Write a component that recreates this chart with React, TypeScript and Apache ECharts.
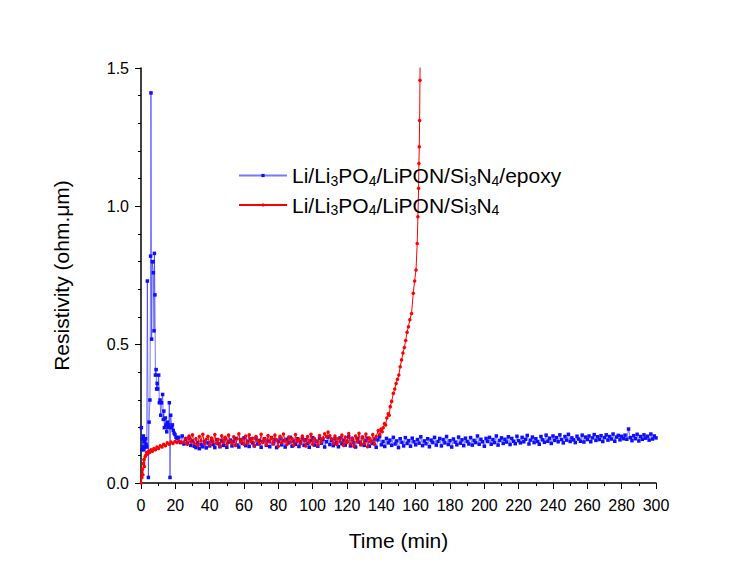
import React, { useEffect, useRef } from "react";
import * as echarts from "echarts";

const FONT = "'Liberation Sans', Arial, Helvetica, sans-serif";

const seriesNames = ["Li/Li3PO4/LiPON/Si3N4/epoxy", "Li/Li3PO4/LiPON/Si3N4"];
const xTickLabels = [0, 20, 40, 60, 80, 100, 120, 140, 160, 180, 200, 220, 240, 260, 280, 300];
const yTickLabels = [0, 0.5, 1.0, 1.5];

// Blue series (with epoxy): initial spike region, [time, resistivity]
const blueEarly: [number, number][] = [
  [0.2, 0.2], [0.5, 0.12], [0.8, 0.16], [1.1, 0.13], [1.4, 0.17], [1.7, 0.12], [2.0, 0.15],
  [2.3, 0.13], [2.7, 0.16], [3.0, 0.14], [3.3, 0.13], [3.7, 0.73], [4.3, 0.02], [4.7, 0.22],
  [5.2, 0.3], [5.6, 0.82], [5.8, 1.41], [6.2, 0.52], [6.6, 0.8], [7.0, 0.8], [7.2, 0.76],
  [7.6, 0.55], [7.8, 0.83], [8.1, 0.68], [8.4, 0.39], [8.8, 0.41], [9.1, 0.34], [9.4, 0.36],
  [9.7, 0.34], [10.3, 0.39], [10.7, 0.29], [11.1, 0.3], [11.5, 0.245], [12.0, 0.29],
  [12.6, 0.32], [13.0, 0.23], [13.3, 0.26], [13.6, 0.2], [14.2, 0.235], [14.6, 0.21],
  [15.0, 0.185], [15.4, 0.22], [15.8, 0.2], [16.2, 0.21], [16.5, 0.29], [16.9, 0.02],
  [17.3, 0.245], [17.9, 0.2], [18.3, 0.21], [18.8, 0.19], [19.3, 0.18], [19.8, 0.175],
  [20.4, 0.165], [21.0, 0.16],
];
// Blue series: flat part, sampled every 1 min from 22 min to 300 min
const blueFlatStart = 22;
const blueFlatStep = 1;
const blueFlat = [
  0.165, 0.146, 0.17, 0.141, 0.158, 0.144, 0.163, 0.136, 0.152, 0.133,
  0.128, 0.147, 0.124, 0.139, 0.131, 0.15, 0.127, 0.145, 0.134, 0.152,
  0.139, 0.128, 0.157, 0.142, 0.131, 0.153, 0.136, 0.16, 0.129, 0.148,
  0.155, 0.134, 0.15, 0.161, 0.137, 0.13, 0.157, 0.143, 0.163, 0.135,
  0.151, 0.132, 0.159, 0.145, 0.134, 0.162, 0.141, 0.154, 0.129, 0.149,
  0.16, 0.136, 0.152, 0.131, 0.164, 0.142, 0.156, 0.128, 0.15, 0.161,
  0.138, 0.154, 0.13, 0.158, 0.145, 0.165, 0.133, 0.152, 0.14, 0.16,
  0.132, 0.149, 0.162, 0.136, 0.156, 0.143, 0.129, 0.153, 0.164, 0.137,
  0.151, 0.133, 0.161, 0.144, 0.157, 0.13, 0.149, 0.166, 0.139, 0.154,
  0.135, 0.16, 0.147, 0.131, 0.163, 0.142, 0.155, 0.137, 0.151, 0.167,
  0.134, 0.158, 0.145, 0.13, 0.161, 0.148, 0.139, 0.165, 0.136, 0.153,
  0.162, 0.133, 0.151, 0.143, 0.159, 0.129, 0.156, 0.168, 0.138, 0.15,
  0.132, 0.161, 0.145, 0.155, 0.136, 0.165, 0.141, 0.152, 0.128, 0.16,
  0.147, 0.134, 0.164, 0.143, 0.153, 0.133, 0.162, 0.149, 0.138, 0.157,
  0.144, 0.167, 0.135, 0.152, 0.142, 0.16, 0.131, 0.155, 0.146, 0.165,
  0.137, 0.15, 0.161, 0.134, 0.157, 0.145, 0.168, 0.139, 0.153, 0.13,
  0.159, 0.148, 0.138, 0.166, 0.144, 0.156, 0.135, 0.162, 0.15, 0.141,
  0.164, 0.137, 0.154, 0.146, 0.17, 0.14, 0.158, 0.149, 0.133, 0.161,
  0.15, 0.165, 0.14, 0.157, 0.146, 0.17, 0.137, 0.154, 0.163, 0.143,
  0.158, 0.148, 0.167, 0.139, 0.161, 0.151, 0.142, 0.169, 0.153, 0.145,
  0.165, 0.149, 0.158, 0.172, 0.141, 0.155, 0.166, 0.146, 0.16, 0.15,
  0.14, 0.168, 0.156, 0.147, 0.173, 0.151, 0.162, 0.143, 0.17, 0.154,
  0.164, 0.149, 0.174, 0.157, 0.145, 0.168, 0.155, 0.176, 0.15, 0.163,
  0.156, 0.146, 0.169, 0.159, 0.151, 0.173, 0.148, 0.166, 0.157, 0.17,
  0.149, 0.163, 0.175, 0.154, 0.167, 0.157, 0.171, 0.15, 0.164, 0.174,
  0.155, 0.168, 0.159, 0.177, 0.151, 0.166, 0.172, 0.156, 0.169, 0.16,
  0.173, 0.158, 0.195, 0.164, 0.153, 0.171, 0.16, 0.176, 0.152, 0.168,
  0.158, 0.174, 0.162, 0.169, 0.155, 0.177, 0.159, 0.17, 0.163,
];

// Red series (without epoxy): initial rise
const redEarly: [number, number][] = [
  [0.2, 0.0], [0.5, 0.02], [0.8, 0.05], [1.1, 0.03], [1.4, 0.07], [1.7, 0.085], [2.0, 0.06],
  [2.4, 0.095], [2.8, 0.1], [3.3, 0.11], [3.8, 0.105], [4.4, 0.115], [5.0, 0.11], [5.8, 0.12],
  [6.6, 0.115], [7.5, 0.125], [8.4, 0.12], [9.3, 0.13], [10.2, 0.125], [11.2, 0.135],
  [12.2, 0.13], [13.2, 0.14], [14.2, 0.135], [15.3, 0.145], [16.4, 0.14], [17.5, 0.148],
  [18.6, 0.143], [19.8, 0.15], [21.0, 0.146], [22.2, 0.152], [23.5, 0.148],
];
// Red series: plateau, sampled every 1 min from 25 min to 137 min
const redFlatStart = 25;
const redFlatStep = 1;
const redFlat = [
  0.147, 0.162, 0.14, 0.17, 0.15, 0.174, 0.143, 0.16, 0.136, 0.168,
  0.152, 0.176, 0.141, 0.158, 0.169, 0.137, 0.163, 0.149, 0.175, 0.144,
  0.157, 0.134, 0.171, 0.146, 0.165, 0.139, 0.173, 0.151, 0.142, 0.167,
  0.136, 0.16, 0.178, 0.148, 0.158, 0.14, 0.17, 0.145, 0.174, 0.15,
  0.162, 0.135, 0.168, 0.153, 0.141, 0.176, 0.147, 0.161, 0.138, 0.172,
  0.149, 0.164, 0.142, 0.173, 0.156, 0.133, 0.169, 0.146, 0.177, 0.152,
  0.139, 0.166, 0.148, 0.161, 0.136, 0.175, 0.15, 0.159, 0.142, 0.17,
  0.155, 0.134, 0.168, 0.147, 0.176, 0.14, 0.161, 0.152, 0.137, 0.172,
  0.148, 0.163, 0.178, 0.167, 0.184, 0.171, 0.16, 0.144, 0.17, 0.139,
  0.161, 0.15, 0.173, 0.136, 0.166, 0.146, 0.179, 0.141, 0.163, 0.133,
  0.17, 0.15, 0.18, 0.138, 0.166, 0.144, 0.177, 0.131, 0.163, 0.148,
  0.175, 0.14, 0.168,
];
// Red series: breakdown rise
const redRise: [number, number][] = [
  [138.2, 0.19], [139.0, 0.175], [139.8, 0.195], [140.5, 0.185], [141.1, 0.2], [141.8, 0.215],
  [142.5, 0.21], [143.2, 0.235], [144.0, 0.25], [144.6, 0.245], [145.2, 0.276], [146.0, 0.295],
  [147.0, 0.324], [147.8, 0.34], [148.6, 0.36], [149.4, 0.375], [150.2, 0.39], [151.0, 0.42],
  [151.8, 0.445], [152.6, 0.47], [153.4, 0.49], [154.2, 0.515], [155.0, 0.545], [155.8, 0.565],
  [156.6, 0.59], [157.6, 0.613], [158.6, 0.686], [159.4, 0.73], [160.2, 0.77], [160.9, 0.866],
  [161.3, 0.962], [161.7, 1.065], [161.9, 1.155], [162.1, 1.215], [162.3, 1.31], [162.5, 1.456],
  [162.7, 1.6],
];

function richName(name: string): string {
  const parts = name.split(/(\d)/).filter((p) => p.length > 0);
  return parts.map((p) => (/^\d$/.test(p) ? `{s|${p}}` : `{n|${p}}`)).join("");
}

export default function App() {
  const ref = useRef<HTMLDivElement>(null);
  useEffect(() => {
    document.body.style.margin = "0";
    if (!ref.current) return;
    const chart = echarts.init(ref.current, undefined, { renderer: "svg" });

    const blueData: [number, number][] = [
      ...blueEarly,
      ...blueFlat.map((v, i) => [blueFlatStart + i * blueFlatStep, v] as [number, number]),
    ];
    const redData: [number, number][] = [
      ...redEarly,
      ...redFlat.map((v, i) => [redFlatStart + i * redFlatStep, v] as [number, number]),
      ...redRise,
    ];

    const axisCommon = {
      axisLine: { show: true, lineStyle: { color: "#000", width: 1.5 } },
      axisTick: { show: true, inside: false, length: 6, lineStyle: { color: "#000", width: 1 } },
      splitLine: { show: false },
      axisLabel: { color: "#000", fontSize: 16, fontFamily: FONT },
      nameTextStyle: { color: "#000", fontSize: 21, fontFamily: FONT },
      nameLocation: "middle" as const,
    };

    chart.setOption({
      animation: false,
      backgroundColor: "#fff",
      grid: { left: 141, right: 92, top: 68, bottom: 92, containLabel: false },
      xAxis: {
        type: "value",
        min: xTickLabels[0],
        max: xTickLabels[xTickLabels.length - 1],
        interval: 20,
        name: "Time (min)",
        nameGap: 47,
        ...axisCommon,
        axisLabel: { ...axisCommon.axisLabel, margin: 14 },
        minorTick: { show: true, splitNumber: 2, length: 3, lineStyle: { color: "#000", width: 1 } },
        minorSplitLine: { show: false },
      },
      yAxis: {
        type: "value",
        min: yTickLabels[0],
        max: yTickLabels[yTickLabels.length - 1],
        interval: 0.5,
        name: "Resistivity (ohm.\u03bcm)",
        nameGap: 69,
        ...axisCommon,
        axisLabel: { ...axisCommon.axisLabel, margin: 12, formatter: (v: number) => v.toFixed(1) },
        minorTick: { show: true, splitNumber: 5, length: 3, lineStyle: { color: "#000", width: 1 } },
        minorSplitLine: { show: false },
      },
      legend: {
        orient: "vertical",
        left: 233,
        top: 160,
        itemWidth: 48,
        itemHeight: 4,
        itemGap: 7,
        data: seriesNames,
        formatter: (name: string) => richName(name),
        textStyle: {
          rich: {
            n: { fontSize: 21, fontFamily: FONT, color: "#000", lineHeight: 24 },
            s: { fontSize: 14, fontFamily: FONT, color: "#000", lineHeight: 12, verticalAlign: "bottom" },
          },
        },
      },
      series: [
        {
          name: seriesNames[0],
          type: "line",
          data: blueData,
          symbol: "rect",
          symbolSize: 3.5,
          showAllSymbol: true,
          itemStyle: { color: "#0d0dff" },
          lineStyle: { color: "rgba(30,30,255,0.6)", width: 1 },
          z: 2,
        },
        {
          name: seriesNames[1],
          type: "line",
          data: redData,
          symbol: "circle",
          symbolSize: 3.5,
          showAllSymbol: true,
          itemStyle: { color: "#ff0000" },
          lineStyle: { color: "#ff0000", width: 1 },
          z: 3,
        },
      ],
    });
    return () => chart.dispose();
  }, []);
  return <div ref={ref} style={{ width: 748, height: 575 }} />;
}
